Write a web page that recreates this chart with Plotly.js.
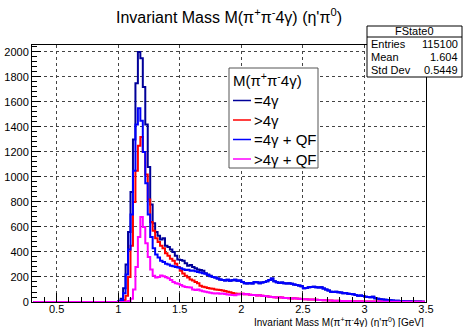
<!DOCTYPE html>
<html>
<head>
<meta charset="utf-8">
<script src="https://cdn.plot.ly/plotly-3.0.1.min.js"></script>
<style>html,body{margin:0;padding:0;background:#fff;}#chart{width:463px;height:327px;}</style>
</head>
<body>
<div id="chart"></div>
<script>
// Histogram binning (GeV): 160 bins of 0.02 from 0.30 to 3.50
const histMin = 0.30;
const binWidth = 0.02;

// =4γ (FState0)
const eq4g = [
  0,0,0,0,0,0,0,0,0,0, 0,0,0,0,0,0,0,0,0,0, 0,0,0,0,0,0,0,0,0,0, 0,0,0,0,0,
  5,25,110,300,560,880,1300,1750,2000,1950,
  1720,1420,1080,780,630,560,530,500,510,450,
  440,420,400,370,340,335,330,310,290,295,
  280,270,260,255,250,230,220,210,200,195,
  187,180,175,172,178,170,174,178,170,172,
  160,150,147,152,148,160,158,150,155,160,
  165,175,188,165,158,152,155,150,148,150,
  145,140,135,132,125,110,112,118,120,122,
  118,115,118,108,100,92,82,80,82,78,
  75,70,72,66,64,62,55,50,52,48,
  42,40,38,42,30,25,22,20,18,15,
  14,12,10,9,8,7,6,5,5,4,
  4,3,3,2,2
];
// >4γ
const gt4g = [
  0,0,0,0,0,0,0,0,0,0, 0,0,0,0,0,0,0,0,0,0, 0,0,0,0,0,0,0,0,0,0, 0,0,0,0,0,
  0,3,15,50,200,450,800,1050,1250,1320,
  1200,1020,820,640,570,510,480,450,430,390,
  370,345,330,305,280,250,228,210,195,180,
  172,160,150,130,122,118,112,108,105,100,
  98,95,92,88,82,78,72,68,66,65,
  66,62,64,58,56,55,52,54,50,48,
  45,42,40,38,36,38,35,32,32,30,
  28,30,28,26,24,22,22,20,19,20,
  18,16,15,14,13,12,11,10,10,9,
  8,8,7,7,6,6,5,5,5,4,
  4,4,3,3,3,3,3,2,2,2,
  2,2,2,2,1,1,1,1,1,1,
  1,1,1,1,1
];
// =4γ + QF
const eq4gQF = [
  0,0,0,0,0,0,0,0,0,0, 0,0,0,0,0,0,0,0,0,0, 0,0,0,0,0,0,0,0,0,0, 0,0,0,0,0,
  3,15,70,220,420,700,1050,1420,1550,1450,
  1200,950,700,520,430,380,355,330,320,305,
  300,290,285,280,275,270,262,255,258,250,
  252,245,240,235,230,225,215,205,200,195,
  187,180,175,172,178,170,174,178,170,172,
  160,150,147,152,148,160,158,150,155,160,
  165,175,188,165,158,152,155,150,148,150,
  145,140,135,132,125,110,112,118,120,122,
  118,115,118,108,100,92,82,80,82,78,
  75,70,72,66,64,62,55,50,52,48,
  42,40,38,42,30,25,22,20,18,15,
  14,12,10,9,8,7,6,5,5,4,
  4,3,3,2,2
];
// >4γ + QF
const gt4gQF = [
  0,0,0,0,0,0,0,0,0,0, 0,0,0,0,0,0,0,0,0,0, 0,0,0,0,0,0,0,0,0,0, 0,0,0,0,0,
  0,0,0,2,8,25,100,280,520,680,
  600,470,360,260,210,195,200,212,205,198,
  190,175,160,150,145,135,125,120,118,115,
  100,95,100,92,85,82,78,74,70,68,
  70,66,68,64,60,58,56,54,60,62,
  66,62,64,58,56,55,52,54,50,48,
  45,42,40,38,36,38,35,32,32,30,
  28,30,28,26,24,22,22,20,19,20,
  18,16,15,14,13,12,11,10,10,9,
  8,8,7,7,6,6,5,5,5,4,
  4,4,3,3,3,3,3,2,2,2,
  2,2,2,2,1,1,1,1,1,1,
  1,1,1,1,1
];

const seriesNames = ["=4γ", ">4γ", "=4γ + QF", ">4γ + QF"];
const seriesColors = ["#000099", "#ff0000", "#0000ff", "#ff00ff"];
const seriesData = [eq4g, gt4g, eq4gQF, gt4gQF];
const legendHeader = "M(π<sup>+</sup>π<sup>-</sup>4γ)";

const statsTitle = "FState0";
const statsLabels = ["Entries", "Mean", "Std Dev"];
const statsValues = ["115100", "1.604", "0.5449"];

const xTickVals = [0.5, 1, 1.5, 2, 2.5, 3, 3.5];
const yTickVals = [0,200,400,600,800,1000,1200,1400,1600,1800,2000];

const centers = eq4g.map((_, i) => +(histMin + binWidth * (i + 0.5)).toFixed(3));

const traces = seriesData.map((d, k) => ({
  type: "scatter", mode: "lines", x: centers, y: d,
  name: seriesNames[k], showlegend: false,
  line: {color: seriesColors[k], width: 2, shape: "hvh"},
  hoverinfo: "skip"
}));

// plot area in pixels: left 32, right 426, top 45, bottom 302
const L = 32, R = 426, T = 45, B = 302;
const px = v => (v - L) / (R - L);
const py = v => 1 - (v - T) / (B - T);
const FONT = "Liberation Sans, Arial, sans-serif";

const shapes = [
  // stats box
  {type: "rect", xref: "paper", yref: "paper", x0: px(367), x1: px(462), y0: py(77), y1: py(26),
   line: {color: "#000", width: 1}, fillcolor: "#fff", layer: "above"},
  {type: "line", xref: "paper", yref: "paper", x0: px(367), x1: px(462), y0: py(37), y1: py(37),
   line: {color: "#000", width: 1}, layer: "above"},
  // legend box
  {type: "rect", xref: "paper", yref: "paper", x0: px(229), x1: px(318), y0: py(168), y1: py(68),
   line: {color: "#555", width: 1}, fillcolor: "#fff", layer: "above"}
];
const annotations = [
  {xref: "paper", yref: "paper", x: px(414.5), y: py(31.5), text: statsTitle, showarrow: false,
   xanchor: "center", yanchor: "middle", font: {family: FONT, size: 11, color: "#000"}},
  {xref: "paper", yref: "paper", x: px(231), y: py(79), text: legendHeader, showarrow: false,
   xanchor: "left", yanchor: "middle", font: {family: FONT, size: 15, color: "#000"}}
];
statsLabels.forEach((lab, i) => {
  const yy = py(44 + 13 * i);
  annotations.push({xref: "paper", yref: "paper", x: px(369), y: yy, text: lab, showarrow: false,
    xanchor: "left", yanchor: "middle", font: {family: FONT, size: 11, color: "#000"}});
  annotations.push({xref: "paper", yref: "paper", x: px(460), y: yy, text: statsValues[i], showarrow: false,
    xanchor: "right", yanchor: "middle", font: {family: FONT, size: 11, color: "#000"}});
});
seriesNames.forEach((nm, k) => {
  const yc = 100.5 + 19.5 * k;
  shapes.push({type: "line", xref: "paper", yref: "paper", x0: px(233), x1: px(251), y0: py(yc), y1: py(yc),
    line: {color: seriesColors[k], width: 1.5}, layer: "above"});
  annotations.push({xref: "paper", yref: "paper", x: px(252), y: py(yc), text: nm, showarrow: false,
    xanchor: "left", yanchor: "middle", font: {family: FONT, size: 15, color: "#000"}});
});
annotations.push({xref: "paper", yref: "paper", x: 1, y: py(322), xanchor: "right", yanchor: "middle",
  text: "Invariant Mass M(π<sup>+</sup>π<sup>-</sup>4γ) (η'π<sup>0</sup>) [GeV]", showarrow: false,
  font: {family: FONT, size: 10, color: "#000"}});

const layout = {
  width: 463, height: 327,
  margin: {l: L, r: 463 - R, t: T, b: 327 - B, pad: 0},
  paper_bgcolor: "#fff", plot_bgcolor: "#fff",
  font: {family: FONT, color: "#000"},
  title: {text: "Invariant Mass M(π<sup>+</sup>π<sup>-</sup>4γ) (η'π<sup>0</sup>)",
          x: 0.5, xref: "paper", xanchor: "center", y: 1 - 17 / 327, yref: "container", yanchor: "middle",
          font: {family: FONT, size: 16, color: "#000"}},
  showlegend: false,
  xaxis: {range: [0.3, 3.5], tickvals: xTickVals, ticktext: xTickVals.map(String),
          ticks: "inside", ticklen: 9, tickcolor: "#000", tickwidth: 1, ticklabelstandoff: -3,
          minor: {dtick: 0.1, tick0: 0.3, ticks: "inside", ticklen: 5, tickcolor: "#000", showgrid: false},
          showline: true, linecolor: "#000", linewidth: 1, mirror: true,
          showgrid: true, gridcolor: "#444", griddash: "dot", gridwidth: 1,
          zeroline: false, tickfont: {family: FONT, size: 11, color: "#000"}, fixedrange: true},
  yaxis: {range: [0, 2055], tickvals: yTickVals, ticktext: yTickVals.map(String),
          ticks: "inside", ticklen: 9, tickcolor: "#000", tickwidth: 1,
          minor: {dtick: 40, tick0: 0, ticks: "inside", ticklen: 5, tickcolor: "#000", showgrid: false},
          showline: true, linecolor: "#000", linewidth: 1, mirror: true,
          showgrid: true, gridcolor: "#444", griddash: "dot", gridwidth: 1,
          zeroline: false, tickfont: {family: FONT, size: 11, color: "#000"}, fixedrange: true},
  shapes: shapes,
  annotations: annotations
};

Plotly.newPlot("chart", traces, layout, {displayModeBar: false, staticPlot: true});
</script>
</body>
</html>
